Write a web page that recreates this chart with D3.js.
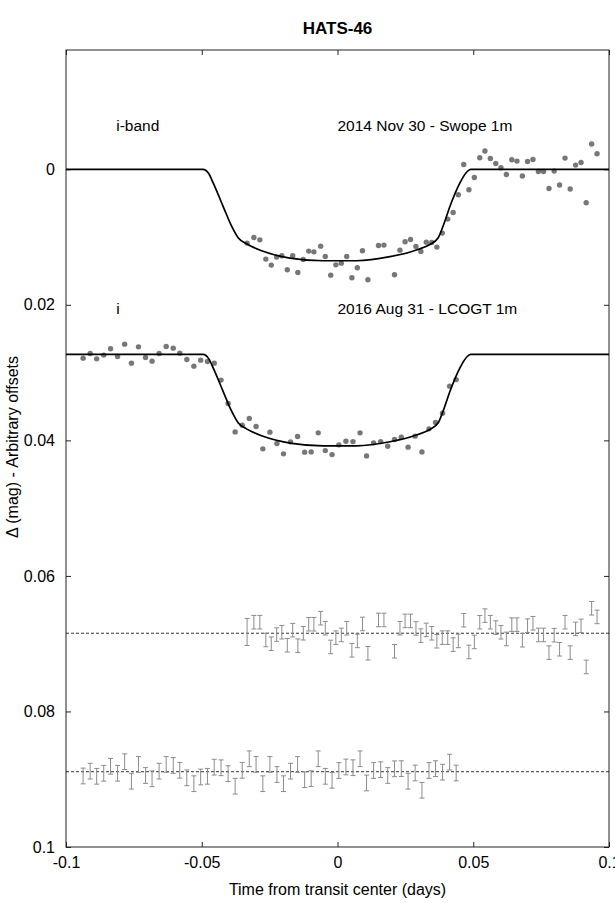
<!DOCTYPE html>
<html>
<head>
<meta charset="utf-8">
<script src="https://cdn.jsdelivr.net/npm/d3@7"></script>
<style>
  html, body { margin: 0; padding: 0; background: #fff; }
  svg { display: block; font-family: "Liberation Sans", Arial, Helvetica, sans-serif; }
</style>
</head>
<body>
<svg id="chart" width="615" height="903"></svg>
<script>
// ---------------- DATA ----------------
const title = "HATS-46";
const xTicks = [-0.1, -0.05, 0, 0.05, 0.1];
const yTicks = [0, 0.02, 0.04, 0.06, 0.08, 0.1];
const xLabel = "Time from transit center (days)";
const yLabel = "\u0394 (mag) - Arbitrary offsets";

// Swope 1m (2014 Nov 30), i-band
const swopeT = [-0.0333,-0.0308,-0.0286,-0.0264,-0.0244,-0.0224,-0.0205,-0.0185,-0.0165,-0.0146,
  -0.0126,-0.0106,-0.0087,-0.0062,-0.0045,-0.0025,-0.0006,0.0014,0.0034,0.0053,
  0.0073,0.0092,0.0112,0.0151,0.0171,0.0210,0.0230,0.0249,0.0269,0.0289,
  0.0307,0.0327,0.0347,0.0366,0.0386,0.0406,0.0426,0.0445,0.0465,0.0484,
  0.0504,0.0524,0.0543,0.0563,0.0583,0.0602,0.0622,0.0642,0.0661,0.0681,
  0.0700,0.0720,0.0740,0.0759,0.0779,0.0798,0.0818,0.0838,0.0857,0.0877,
  0.0897,0.0916,0.0936,0.0956];
const swopeMag = [0.01089,0.01007,0.01041,0.01325,0.01414,0.01296,0.01277,0.01483,0.01277,0.01523,
  0.01331,0.01207,0.01218,0.01134,0.01287,0.01562,0.01410,0.01385,0.01287,0.01601,
  0.01454,0.01203,0.01631,0.01125,0.01119,0.01557,0.01193,0.01070,0.01036,0.01140,
  0.01213,0.01075,0.01080,0.01148,0.00942,0.00735,0.00638,0.00376,-0.00071,0.00303,
  0.00121,-0.00170,-0.00269,-0.00159,-0.00086,-0.00022,0.00077,-0.00140,-0.00121,0.00100,
  -0.00115,-0.00145,0.00032,0.00032,0.00283,0.00027,0.00233,-0.00165,0.00292,-0.00062,
  -0.00100,0.00494,-0.00372,-0.00229];
const swopeResid = [0.06827,0.06683,0.06683,0.06945,0.07001,0.06866,0.06831,0.07023,0.06801,0.07030,
  0.06846,0.06713,0.06713,0.06624,0.06772,0.07048,0.06911,0.06871,0.06772,0.07097,
  0.06959,0.06709,0.07141,0.06650,0.06650,0.07112,0.06772,0.06664,0.06664,0.06775,
  0.06881,0.06797,0.06846,0.06964,0.06911,0.06911,0.07014,0.06959,0.06654,0.07122,
  0.06974,0.06683,0.06586,0.06683,0.06763,0.06831,0.06930,0.06719,0.06719,0.06949,
  0.06734,0.06698,0.06871,0.06871,0.07132,0.06875,0.07082,0.06683,0.07132,0.06782,
  0.06738,0.07343,0.06477,0.06605];
const swopeErr = [0.0020,0.0010,0.0010,0.0010,0.0010,0.0010,0.0010,0.0010,0.0010,0.0010,
  0.0010,0.0010,0.0010,0.0010,0.0010,0.0010,0.0010,0.0010,0.0010,0.0010,
  0.0010,0.0010,0.0010,0.0010,0.0010,0.0010,0.0010,0.0010,0.0010,0.0010,
  0.0010,0.0010,0.0010,0.0010,0.0010,0.0010,0.0010,0.0010,0.0010,0.0010,
  0.0010,0.0010,0.0010,0.0010,0.0010,0.0010,0.0010,0.0010,0.0010,0.0010,
  0.0010,0.0010,0.0010,0.0010,0.0010,0.0010,0.0010,0.0010,0.0010,0.0010,
  0.0010,0.0010,0.0010,0.0010];
const swopeOffset = 0.0;
const swopeResidLevel = 0.06846;

// LCOGT 1m (2016 Aug 31), i
const lcogtT = [-0.0937,-0.0911,-0.0887,-0.0861,-0.0836,-0.0810,-0.0784,-0.0759,-0.0733,-0.0707,
  -0.0683,-0.0657,-0.0631,-0.0605,-0.0581,-0.0555,-0.0529,-0.0504,-0.0479,-0.0454,
  -0.0429,-0.0403,-0.0377,-0.0351,-0.0325,-0.0300,-0.0275,-0.0249,-0.0223,-0.0199,
  -0.0173,-0.0147,-0.0121,-0.0097,-0.0071,-0.0045,-0.0020,0.0005,0.0031,0.0057,
  0.0083,0.0107,0.0133,0.0159,0.0185,0.0210,0.0235,0.0260,0.0286,0.0311,
  0.0337,0.0361,0.0387,0.0413,0.0437];
const lcogtMag = [0.02787,0.02719,0.02797,0.02742,0.02649,0.02763,0.02580,0.02861,0.02620,0.02778,
  0.02831,0.02719,0.02616,0.02639,0.02713,0.02807,0.02905,0.02816,0.02837,0.02861,
  0.03111,0.03457,0.03875,0.03776,0.03678,0.03796,0.04125,0.03879,0.04047,0.04199,
  0.04022,0.03944,0.04174,0.04170,0.03889,0.04151,0.04210,0.04066,0.04012,0.04018,
  0.03889,0.04229,0.04037,0.04018,0.04086,0.03988,0.03953,0.04100,0.03938,0.04170,
  0.03830,0.03737,0.03599,0.03200,0.03103];
const lcogtResid = [0.08952,0.08881,0.08957,0.08912,0.08809,0.08912,0.08741,0.09029,0.08782,0.08945,
  0.08993,0.08881,0.08782,0.08797,0.08868,0.08979,0.09066,0.08967,0.08957,0.08822,
  0.08831,0.08918,0.09103,0.08868,0.08698,0.08782,0.09066,0.08782,0.08930,0.09066,
  0.08881,0.08782,0.09007,0.08992,0.08698,0.08957,0.09016,0.08871,0.08819,0.08830,
  0.08698,0.09055,0.08871,0.08859,0.08945,0.08846,0.08844,0.09029,0.08908,0.09163,
  0.08871,0.08844,0.08896,0.08748,0.08908];
const lcogtErr = 0.00116;
const lcogtOffset = 0.0273;
const lcogtResidLevel = 0.08889;

// Transit model (depth below baseline)
const modelT = [-0.1,-0.0495,-0.0475,-0.0458,-0.0421,-0.0390,-0.0366,-0.0335,-0.0274,-0.0175,
  -0.0053,0.0070,0.0193,0.0291,0.0340,0.0371,0.0395,0.0414,0.0451,0.0476,0.0490,0.1];
const modelDepth = [0,0,0.0006,0.0020,0.0055,0.0084,0.0101,0.0110,0.0121,0.0131,
  0.0135,0.0135,0.0129,0.0119,0.0111,0.0101,0.0077,0.0055,0.0020,0.0004,0,0];

const panelLeft = ["i-band", "i"];
const panelRight = ["2014 Nov 30 - Swope 1m", "2016 Aug 31 - LCOGT 1m"];
const panelLabelY = [-0.0057, 0.0213];

// ---------------- CHART ----------------
const W = 615, H = 903;
const m = { left: 66, right: 6, top: 50, bottom: 56 };
const svg = d3.select("#chart");
const x = d3.scaleLinear().domain([-0.1, 0.1]).range([m.left, W - m.right]);
const y = d3.scaleLinear().domain([-0.0176, 0.1]).range([m.top, H - m.bottom]);

const fmt = d => d === 0 ? "0" : String(d);

// frame
svg.append("rect").attr("x", x(-0.1)).attr("y", y(-0.0176))
  .attr("width", x(0.1) - x(-0.1)).attr("height", y(0.1) - y(-0.0176))
  .attr("fill", "none").attr("stroke", "#222").attr("stroke-width", 1);

// axes with inward ticks
const axB = svg.append("g").attr("transform", `translate(0,${y(0.1)})`)
  .call(d3.axisBottom(x).tickValues(xTicks).tickSize(-5).tickPadding(10).tickFormat(fmt));
const axT = svg.append("g").attr("transform", `translate(0,${y(-0.0176)})`)
  .call(d3.axisTop(x).tickValues(xTicks).tickSize(-5).tickFormat(""));
const axL = svg.append("g").attr("transform", `translate(${x(-0.1)},0)`)
  .call(d3.axisLeft(y).tickValues(yTicks).tickSize(-5).tickPadding(11).tickFormat(fmt));
const axR = svg.append("g").attr("transform", `translate(${x(0.1)},0)`)
  .call(d3.axisRight(y).tickValues(yTicks).tickSize(-5).tickFormat(""));
[axB, axT, axL, axR].forEach(g => {
  g.select(".domain").remove();
  g.selectAll("line").attr("stroke", "#222");
  g.selectAll("text").attr("font-size", 16).attr("fill", "#000")
    .style("font-family", "'Liberation Sans', Arial, sans-serif");
});

// title and axis labels
svg.append("text").attr("x", x(0)).attr("y", 34).attr("text-anchor", "middle")
  .attr("font-size", 17).attr("font-weight", "bold").text(title);
svg.append("text").attr("x", x(0)).attr("y", 895).attr("text-anchor", "middle")
  .attr("font-size", 16).text(xLabel);
svg.append("text").attr("transform", `translate(17.5,447) rotate(-90)`)
  .attr("text-anchor", "middle").attr("font-size", 16).text(yLabel);

// panel labels
panelLeft.forEach((t, i) => {
  svg.append("text").attr("x", x(-0.0815)).attr("y", y(panelLabelY[i])).attr("font-size", 15.5).text(t);
  svg.append("text").attr("x", x(0.0)).attr("y", y(panelLabelY[i])).attr("font-size", 15.5).text(panelRight[i]);
});

// residual reference lines
[swopeResidLevel, lcogtResidLevel].forEach(v => {
  svg.append("line").attr("x1", x(-0.1)).attr("x2", x(0.1)).attr("y1", y(v)).attr("y2", y(v))
    .attr("stroke", "#000").attr("stroke-width", 0.8).attr("stroke-dasharray", "3,2");
});

// error bars
function errBars(ts, vals, errs, cls) {
  const g = svg.append("g").attr("class", cls).attr("stroke", "#8c8c8c").attr("stroke-width", 1);
  ts.forEach((t, i) => {
    const e = Array.isArray(errs) ? errs[i] : errs;
    const cx = x(t), y1 = y(vals[i] - e), y2 = y(vals[i] + e);
    g.append("line").attr("x1", cx).attr("x2", cx).attr("y1", y1).attr("y2", y2);
    g.append("line").attr("x1", cx - 2.5).attr("x2", cx + 2.5).attr("y1", y1).attr("y2", y1);
    g.append("line").attr("x1", cx - 2.5).attr("x2", cx + 2.5).attr("y1", y2).attr("y2", y2);
  });
}
errBars(swopeT, swopeResid, swopeErr, "swope-resid");
errBars(lcogtT, lcogtResid, lcogtErr, "lcogt-resid");

// data points
function dots(ts, vals, cls) {
  svg.append("g").attr("class", cls).selectAll("circle").data(ts).join("circle")
    .attr("cx", d => x(d)).attr("cy", (d, i) => y(vals[i])).attr("r", 2.7)
    .attr("fill", "#777");
}
dots(swopeT, swopeMag, "swope");
dots(lcogtT, lcogtMag, "lcogt");

// model curves
const model = modelT.map((t, i) => [t, modelDepth[i]]);
[swopeOffset, lcogtOffset].forEach(off => {
  const line = d3.line().x(d => x(d[0])).y(d => y(d[1] + off)).curve(d3.curveMonotoneX);
  svg.append("path").datum(model).attr("d", line)
    .attr("fill", "none").attr("stroke", "#000").attr("stroke-width", 1.7);
});
</script>
</body>
</html>
